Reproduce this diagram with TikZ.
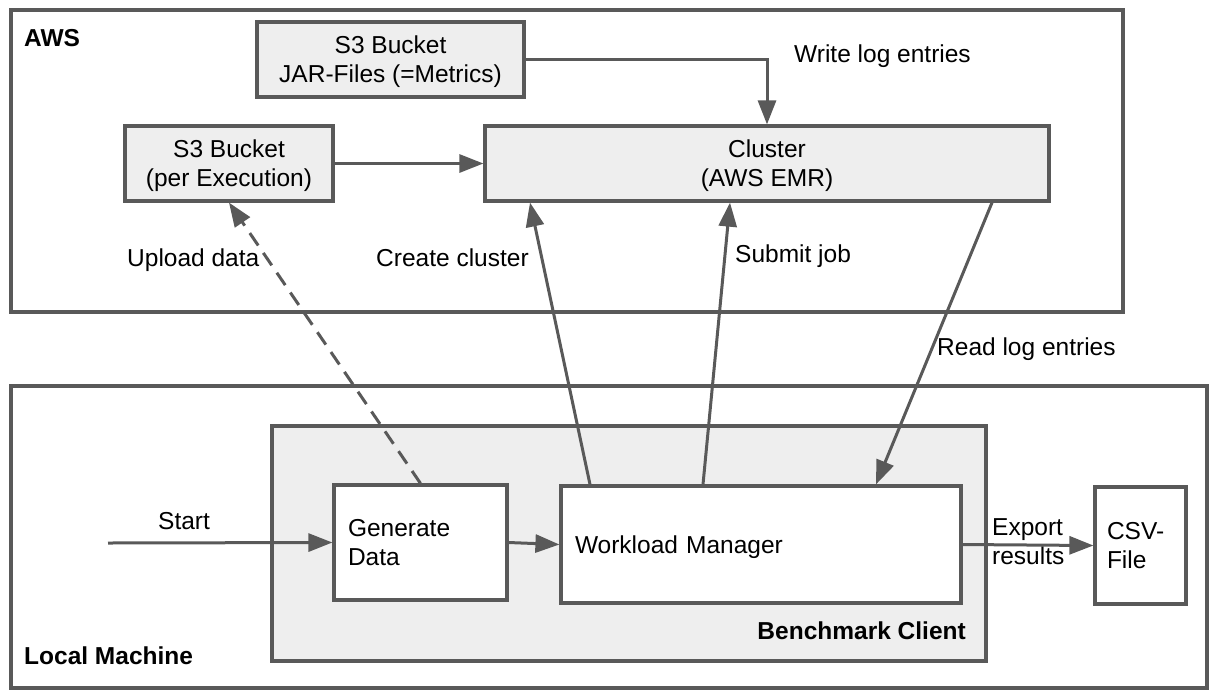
\documentclass[tikz,border=0pt]{standalone}
\usepackage{fontspec}
\setmainfont{Liberation Sans}
\usetikzlibrary{arrows.meta}
\definecolor{lc}{HTML}{595959}
\definecolor{bf}{HTML}{EEEEEE}
\begin{document}
\begin{tikzpicture}[x=1pt,y=-1pt,
  every node/.style={font=\fontsize{24.5}{29}\selectfont, text=black},
  frame/.style={draw=lc, line width=3.2pt, inner sep=0pt, outer sep=1.6pt},
  greybox/.style={frame, fill=bf, align=center, text depth=0pt},
  whitebox/.style={frame, fill=white, align=left},
  lbl/.style={inner sep=0pt, anchor=base west},
  bold/.style={lbl, font=\fontsize{24.5}{29}\selectfont\bfseries},
  conn/.style={draw=lc, line width=3pt, -{Triangle[length=24pt,width=18pt]}},
  dconn/.style={conn, dash pattern=on 15pt off 9pt}
]
\useasboundingbox (0,0) rectangle (1218,697);
% containers
\node[frame, minimum width=1112pt, minimum height=302pt] (aws) at (567,161) {};
\node[frame, minimum width=1196pt, minimum height=302pt] (lm) at (609,537) {};
\node[frame, fill=bf, minimum width=714pt, minimum height=235pt] (bench) at (629,543.5) {};
\node[bold] (awslbl) at (24,46) {AWS};
\node[bold] (lmlbl) at (24,664) {Local Machine};
\node[bold, anchor=base east] (benchlbl) at (966,639) {Benchmark Client};
% boxes
\node[greybox, minimum width=267pt, minimum height=75pt] (jar) at (390.5,59.5) {S3 Bucket\\JAR-Files (=Metrics)};
\node[greybox, minimum width=208pt, minimum height=75pt] (s3e) at (229,163.5) {S3 Bucket\\(per Execution)};
\node[greybox, minimum width=564pt, minimum height=75pt] (cluster) at (767,163.5) {Cluster\\(AWS EMR)};
\node[whitebox, inner xsep=14pt, text width=145pt, minimum height=115pt] (gd) at (420.5,542.5) {Generate\\Data};
\node[whitebox, inner xsep=14pt, text width=372pt, minimum height=117pt, text depth=0pt] (wm) at (761,544.5) {Workload Manager};
\node[whitebox, inner xsep=12pt, text width=67pt, minimum height=117pt] (csv) at (1140.5,545.5) {CSV-\\File};
% labels
\node[lbl] (l1) at (794,62) {Write log entries};
\node[lbl] (l2) at (127,266) {Upload data};
\node[lbl] (l3) at (376,266) {Create cluster};
\node[lbl] (l4) at (735,262) {Submit job};
\node[lbl] (l5) at (937,355) {Read log entries};
\node[lbl] (l6) at (158,529) {Start};
\node[inner sep=0pt, anchor=west, align=left, text depth=0pt] (l7) at (992,541.5) {Export\\results};
\coordinate (startpt) at (108,543);
% connectors
\draw[conn] (jar.east) -| (cluster.north);
\draw[conn] (s3e.east) -- (cluster.west);
\draw[dconn] (gd.north) -- (s3e.south);
\draw[conn] ([xshift=-171pt]wm.north) -- ([xshift=-237pt]cluster.south);
\draw[conn] ([xshift=-58pt]wm.north) -- ([xshift=-37pt]cluster.south);
\draw[conn] ([xshift=225pt]cluster.south) -- ([xshift=115pt]wm.north);
\draw[conn] (startpt) -- (gd.west);
\draw[conn] (gd.east) -- (wm.west);
\draw[conn] (wm.east) -- (csv.west);
\end{tikzpicture}
\end{document}
